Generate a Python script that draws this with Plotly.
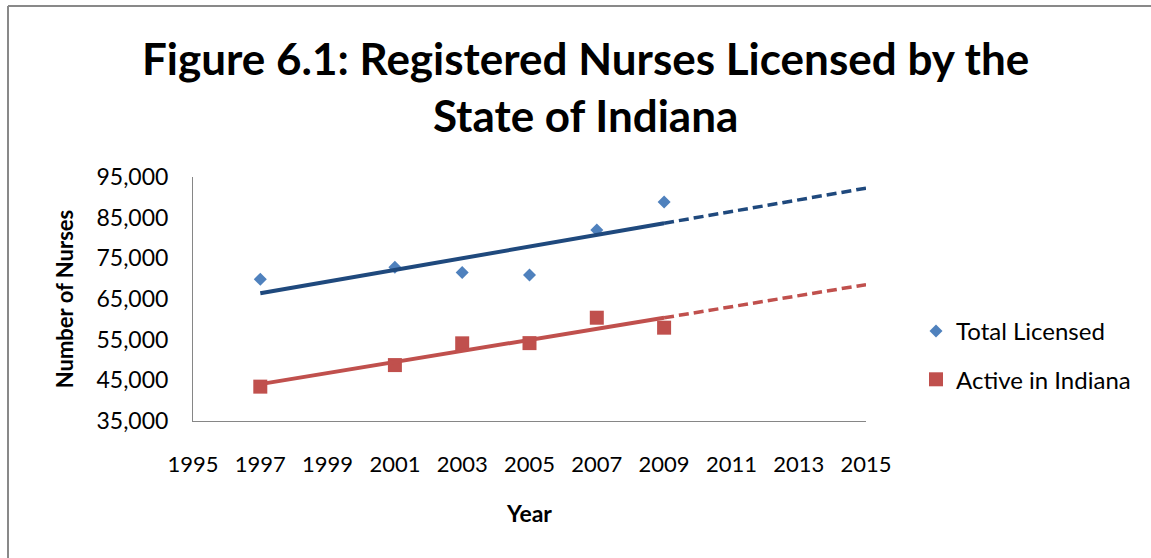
import numpy as np
import plotly.graph_objects as go

years = [1997, 2001, 2003, 2005, 2007, 2009]
total_licensed = [69850, 72800, 71500, 70900, 81950, 88850]
active_indiana = [43450, 48750, 54100, 54150, 60400, 57950]
forecast_end = 2015
x_ticks = list(range(1995, 2016, 2))
y_ticks = list(range(35000, 95001, 10000))

W, H = 1151, 558
L, R, T, B = 193, W - 866, 177, H - 421

fig = go.Figure()

fig.add_trace(go.Scatter(x=years, y=total_licensed, mode="markers", name="Total Licensed",
                         marker=dict(symbol="diamond", size=10, color="#4F81BD"),
                         legendgroup="a"))
fig.add_trace(go.Scatter(x=years, y=active_indiana, mode="markers", name="Active in Indiana",
                         marker=dict(symbol="square", size=14, color="#C0504D"),
                         legendgroup="b"))

for ys, col in [(total_licensed, "#1F497D"), (active_indiana, "#C0504D")]:
    m, c = np.polyfit(years, ys, 1)
    x0, x1 = years[0], years[-1]
    fig.add_trace(go.Scatter(x=[x0, x1], y=[m * x0 + c, m * x1 + c], mode="lines",
                             line=dict(color=col, width=4), showlegend=False, hoverinfo="skip"))
    fig.add_trace(go.Scatter(x=[x1, forecast_end], y=[m * x1 + c, m * forecast_end + c], mode="lines",
                             line=dict(color=col, width=3.5, dash="10px,5px"), showlegend=False,
                             hoverinfo="skip"))

pw, ph = W - L - R, H - T - B
def px(xp):
    return (xp - L) / pw
def py(yp):
    return (H - B - yp) / ph

fig.add_shape(type="line", xref="paper", yref="paper", x0=px(8), x1=px(W + 5), y0=py(6), y1=py(6),
              line=dict(color="#898989", width=2))
fig.add_shape(type="line", xref="paper", yref="paper", x0=px(8), x1=px(8), y0=py(6), y1=py(H + 5),
              line=dict(color="#898989", width=2))

fig.add_annotation(text="Figure 6.1: Registered Nurses Licensed by the<br>State of Indiana",
                   xref="paper", yref="paper", x=px(585), y=py(86), xanchor="center",
                   yanchor="middle", showarrow=False, align="center",
                   font=dict(family="Lato, sans-serif", size=44, color="black", weight="bold"))

fig.update_layout(
    width=W, height=H,
    margin=dict(l=L, r=R, t=T, b=B, autoexpand=False),
    paper_bgcolor="white", plot_bgcolor="white",
    showlegend=True,
    legend=dict(x=px(916), xanchor="left", y=py(309), yanchor="top",
                font=dict(family="Lato, sans-serif", size=24, color="black"),
                traceorder="grouped", tracegroupgap=14, bgcolor="rgba(0,0,0,0)",
                itemwidth=30),
    font=dict(family="Lato, sans-serif", color="black"),
)
fig.update_xaxes(range=[1995, 2015], tickvals=x_ticks, ticktext=[str(t) for t in x_ticks],
                 showgrid=False, zeroline=False, showline=True, linecolor="#868686", linewidth=1,
                 ticks="", ticklabelstandoff=24,
                 tickfont=dict(family="Lato, sans-serif", size=22, color="black"),
                 title=dict(text="Year", font=dict(family="Lato, sans-serif", size=23, color="black",
                                                    weight="bold"), standoff=29))
fig.update_yaxes(range=[35000, 95000], tickvals=y_ticks, ticktext=[f"{v:,}" for v in y_ticks],
                 showgrid=False, zeroline=False, showline=True, linecolor="#868686", linewidth=1,
                 ticks="", ticklabelstandoff=19,
                 tickfont=dict(family="Lato, sans-serif", size=23, color="black"),
                 title=dict(text="Number of Nurses", font=dict(family="Lato, sans-serif", size=22,
                                                                color="black", weight="bold"),
                            standoff=16))

fig.write_html("out.html", config={"displayModeBar": False},
               post_script="document.body.style.margin='0';document.body.style.overflow='hidden';")
